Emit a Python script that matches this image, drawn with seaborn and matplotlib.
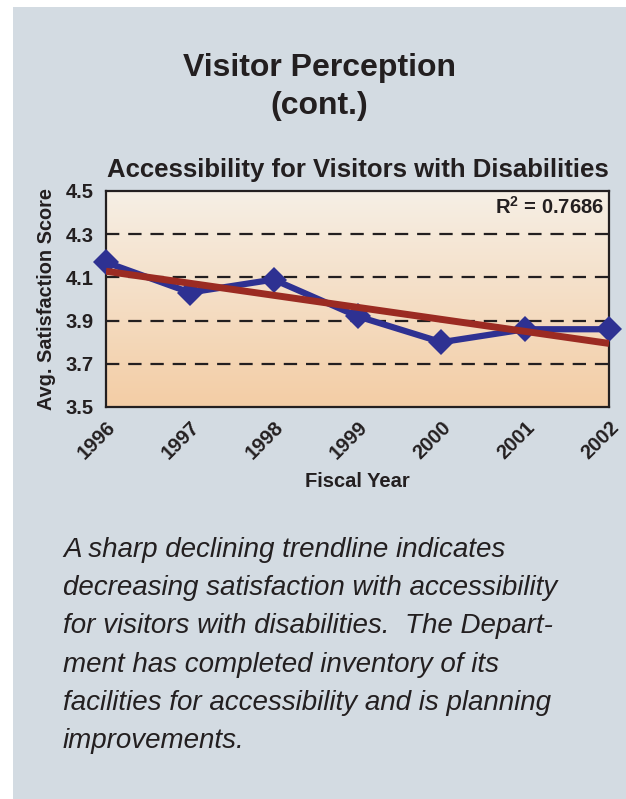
import numpy as np
import pandas as pd
import matplotlib
matplotlib.use("Agg")
import matplotlib.pyplot as plt
import seaborn as sns
from matplotlib.colors import LinearSegmentedColormap
from matplotlib.patches import Rectangle

# data
years = ["1996", "1997", "1998", "1999", "2000", "2001", "2002"]
scores = [4.17, 4.03, 4.09, 3.92, 3.80, 3.86, 3.86]
y_ticks = [3.5, 3.7, 3.9, 4.1, 4.3, 4.5]
r2_label = "R$^\\mathbf{2}$ = 0.7686"

title = "Visitor Perception\n(cont.)"
subtitle = "Accessibility for Visitors with Disabilities"
caption = ("A sharp declining trendline indicates\n"
           "decreasing satisfaction with accessibility\n"
           "for visitors with disabilities.  The Depart-\n"
           "ment has completed inventory of its\n"
           "facilities for accessibility and is planning\n"
           "improvements.")

sns.set_theme(style="white")
plt.rcParams["font.family"] = ["Liberation Sans", "DejaVu Sans"]
plt.rcParams["mathtext.fontset"] = "custom"
plt.rcParams["mathtext.bf"] = "Liberation Sans:bold"
plt.rcParams["mathtext.rm"] = "Liberation Sans:bold"

panel_color = "#d3dbe2"
text_color = "#231f20"

fig = plt.figure(figsize=(6.26, 7.99), dpi=100)
fig.patch.set_facecolor("white")
fig.patches.append(Rectangle((13 / 626, 0), 1, 1 - 7 / 799, transform=fig.transFigure,
                             facecolor=panel_color, edgecolor="none", zorder=-5))

ax = fig.add_axes([106 / 626, 1 - 407 / 799, (609 - 106) / 626, (407 - 191) / 799])
ax.set_zorder(2)

df = pd.DataFrame({"x": np.arange(len(years)), "score": scores})

# gradient background inside plot area
grad = LinearSegmentedColormap.from_list("bg", ["#f3cda5", "#f6efe5"])
ax.imshow(np.linspace(0, 1, 256).reshape(-1, 1), cmap=grad, aspect="auto",
          extent=[0, len(years) - 1, 3.5, 4.5], origin="lower", zorder=0)

for yv in y_ticks[1:-1]:
    ax.axhline(yv, color=text_color, lw=1.6, ls=(0, (6, 4)), zorder=1)

sns.lineplot(data=df, x="x", y="score", ax=ax, color="#2e3192", lw=4.5,
             marker="D", markersize=13, markeredgewidth=0, zorder=3, clip_on=False)

slope, intercept = np.polyfit(df["x"], df["score"], 1)
ax.plot(df["x"], intercept + slope * df["x"], color="#9b2b22", lw=5, zorder=4,
        solid_capstyle="butt")

ax.set_xlim(0, len(years) - 1)
ax.set_ylim(3.5, 4.5)
ax.set_yticks(y_ticks)
ax.set_yticklabels([f"{v:.1f}" for v in y_ticks], fontsize=14.5, fontweight="bold",
                   color=text_color)
ax.set_xticks(df["x"])
ax.set_xticklabels(years, rotation=45, ha="right", rotation_mode="anchor",
                   fontsize=14.5, fontweight="bold", color=text_color)
ax.tick_params(axis="both", length=5, width=0.8, color=text_color, pad=4)
ax.tick_params(axis="x", direction="inout", length=8, pad=4)
ax.set_xlabel("Fiscal Year", fontsize=14.5, fontweight="bold", color=text_color, labelpad=6)
ax.set_ylabel("Avg. Satisfaction Score", fontsize=14.3, fontweight="bold",
              color=text_color, labelpad=7)
for sp in ax.spines.values():
    sp.set_color(text_color)
    sp.set_linewidth(1.6)
    sp.set_visible(True)

ax.text(0.99, 0.975, r2_label, transform=ax.transAxes, ha="right", va="top",
        fontsize=14.5, fontweight="bold", color=text_color, zorder=5)

fig.text(0.51, 1 - 53 / 799, title, ha="center", va="top", fontsize=23,
         fontweight="bold", color=text_color, linespacing=1.35)
fig.text(0.571, 1 - 158 / 799, subtitle, ha="center", va="top", fontsize=18.5,
         fontweight="bold", color=text_color)
fig.text(63 / 626, 1 - 537 / 799, caption, ha="left", va="top", fontsize=20,
         fontstyle="italic", color=text_color, linespacing=1.61)

fig.savefig("out.png", dpi=100, facecolor=fig.get_facecolor())
